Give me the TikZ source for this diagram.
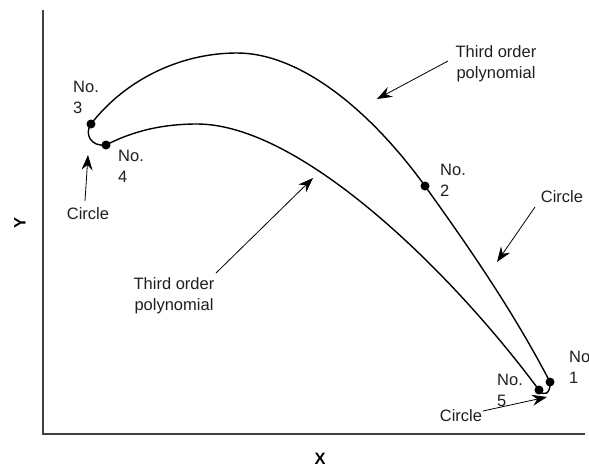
\documentclass[tikz,border=0pt]{standalone}
\usepackage{fontspec}
\setmainfont{Liberation Sans}
\usetikzlibrary{arrows.meta}
\begin{document}
\begin{tikzpicture}[x=1pt,y=-1pt,
  lbl/.style={inner sep=0pt,font=\fontsize{16.5}{21}\selectfont,text=black!88},
  axlbl/.style={inner sep=0pt,font=\fontsize{16.5}{20}\selectfont\bfseries},
  dot/.style={circle,fill=black,inner sep=0pt,minimum size=9pt},
  curve/.style={line width=1.4pt},
  pointer/.style={line width=0.8pt,-{Stealth[length=15pt,width=11pt,inset=5pt]}},
  axis/.style={line width=1.3pt,draw=black!75}]
\useasboundingbox (0,0) rectangle (589,469);
% axes
\coordinate (ytop) at (43,10);
\coordinate (orig) at (43,434);
\coordinate (xend) at (585,434);
\draw[axis] (ytop) -- (orig) -- (xend);
\node[axlbl] (xl) at (320,459) {X};
\node[axlbl,rotate=90] (yl) at (20,223) {Y};
% points
\node[dot] (p1) at (550,382) {};
\node[dot] (p2) at (425,186) {};
\node[dot] (p3) at (91,124) {};
\node[dot] (p4) at (106,145) {};
\node[dot] (p5) at (539,390) {};
\coordinate (top1) at (237,53);
\coordinate (top2) at (197,124);
% upper third order polynomial
\draw[curve] (p3.center) .. controls (125,80) and (180,53) .. (top1)
  .. controls (300,53) and (370,110) .. (p2.center)
  .. controls (460,235) and (510,305) .. (p1.center);
% lower third order polynomial
\draw[curve] (p4.center) .. controls (135,130) and (165,124) .. (top2)
  .. controls (300,124) and (450,270) .. (p5.center);
% circle arcs
\draw[curve] (p3.center) .. controls (84,134) and (91,147) .. (p4.center);
\draw[curve] (p5.center) .. controls (543,397) and (551,394) .. (p1.center);
% point labels
\node[lbl,align=left,anchor=west] (l3) at (73,97) {No.\\3};
\node[lbl,align=left,anchor=west] (l4) at (118,166) {No.\\4};
\node[lbl,align=left,anchor=west] (l2) at (440,180) {No.\\2};
\node[lbl,align=left,anchor=west] (l5) at (497,390) {No.\\5};
\node[lbl,align=left,anchor=west] (l1) at (569,367) {No.\\1};
% annotations
\node[lbl] (c1) at (88,214) {Circle};
\coordinate (c1tail) at (85,201);
\coordinate (c1tip) at (88,155);
\draw[pointer] (c1tail) -- (c1tip);
\node[lbl] (c2) at (562,197) {Circle};
\coordinate (c2tail) at (535,207);
\coordinate (c2tip) at (497,262);
\draw[pointer] (c2tail) -- (c2tip);
\node[lbl] (c3) at (461,416) {Circle};
\coordinate (c3tail) at (483,411);
\coordinate (c3tip) at (547,397);
\draw[pointer] (c3tail) -- (c3tip);
\node[lbl,align=center] (t1) at (496,64) {Third order\\polynomial};
\coordinate (t1tail) at (448,61);
\coordinate (t1tip) at (377,99);
\draw[pointer] (t1tail) -- (t1tip);
\node[lbl,align=center] (t2) at (174,296) {Third order\\polynomial};
\coordinate (t2tail) at (216,273);
\coordinate (t2tip) at (313,178);
\draw[pointer] (t2tail) -- (t2tip);
\end{tikzpicture}
\end{document}
